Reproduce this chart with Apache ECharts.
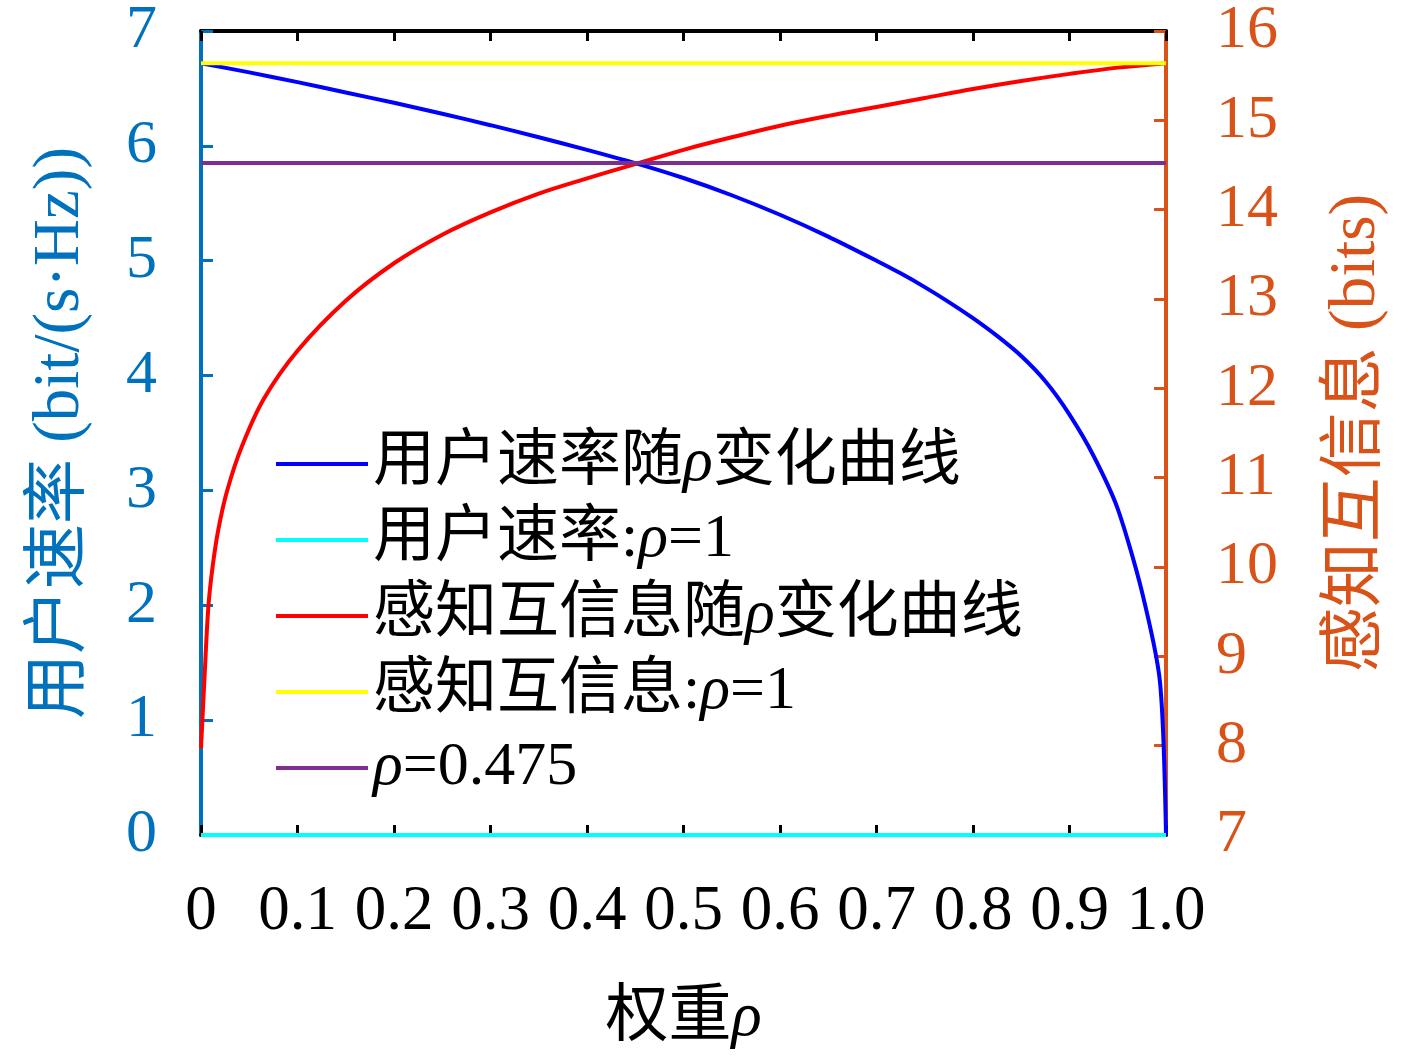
<!DOCTYPE html>
<html>
<head>
<meta charset="utf-8">
<script src="https://cdn.jsdelivr.net/npm/echarts@6/dist/echarts.min.js"></script>
<style>html,body{margin:0;padding:0;background:#fff}#c{width:1417px;height:1058px}</style>
</head>
<body>
<div id="c"></div>
<script>
// ---- data ----
const xTicks = ['0','0.1','0.2','0.3','0.4','0.5','0.6','0.7','0.8','0.9','1.0'];
const rhoRate = [0,0.05,0.1,0.15,0.2,0.25,0.3,0.35,0.4,0.45,0.5,0.55,0.6,0.65,0.7,0.725,0.75,0.775,0.8,0.825,0.85,0.875,0.9,0.925,0.95,0.975,0.9938,1.0];
const rate    = [6.72,6.64,6.555,6.465,6.375,6.28,6.18,6.075,5.965,5.85,5.72,5.57,5.40,5.21,5.00,4.89,4.77,4.64,4.50,4.345,4.17,3.95,3.66,3.30,2.84,2.12,1.33,0];
const rhoMI = [0,0.0035,0.0076,0.012,0.018,0.027,0.042,0.065,0.1,0.15,0.2,0.25,0.3,0.35,0.4,0.45,0.5,0.55,0.6,0.65,0.7,0.75,0.8,0.85,0.9,0.95,1.0];
const mi    = [7.97,8.73,9.55,10.0,10.42,10.85,11.34,11.88,12.42,12.98,13.40,13.72,13.97,14.18,14.35,14.51,14.67,14.81,14.94,15.05,15.15,15.25,15.35,15.44,15.52,15.59,15.64];
const rateAtOne = 0;      // 用户速率:ρ=1
const miAtOne = 15.64;    // 感知互信息:ρ=1
const rateAtOpt = 5.85;   // ρ=0.475 line
const names = ['用户速率随ρ变化曲线','用户速率:ρ=1','感知互信息随ρ变化曲线','感知互信息:ρ=1','ρ=0.475'];

const pairs = (xs, ys) => xs.map((x, i) => [x, ys[i]]);
const FONT = "'Liberation Serif', 'Noto Sans CJK SC', serif";
const BLUE_AX = '#0072BD', ORANGE_AX = '#D95319';
const italicRho = s => s.replace(/ρ/g, '{i|ρ}');

const chart = echarts.init(document.getElementById('c'));
chart.setOption({
  animation: false,
  backgroundColor: '#fff',
  grid: {left: 201, right: 251, top: 30, bottom: 223, containLabel: false},
  legend: {
    orient: 'vertical', left: 271, top: 428,
    itemWidth: 92, itemHeight: 4, itemGap: 14, icon: 'rect',
    data: names,
    formatter: italicRho,
    textStyle: {fontFamily: FONT, fontSize: 62, color: '#000', lineHeight: 60,
      rich: {i: {fontFamily: "'Liberation Serif'", fontStyle: 'italic', fontSize: 62, lineHeight: 60}}}
  },
  xAxis: [{
    type: 'value', min: 0, max: 1, interval: 0.1, position: 'bottom',
    name: '权重{i|ρ}', nameLocation: 'middle', nameGap: 152,
    nameTextStyle: {fontFamily: FONT, fontSize: 63, color: '#000',
      rich: {i: {fontFamily: "'Liberation Serif'", fontStyle: 'italic', fontSize: 63}}},
    axisLine: {onZero: false, lineStyle: {color: '#000', width: 4}},
    axisTick: {inside: true, length: 10, lineStyle: {color: '#000', width: 3}},
    splitLine: {show: false},
    axisLabel: {fontFamily: FONT, fontSize: 63, color: '#000', margin: 46,
      formatter: v => xTicks[Math.round(v * 10)]}
  }, {
    type: 'value', min: 0, max: 1, interval: 0.1, position: 'top',
    axisLine: {onZero: false, lineStyle: {color: '#000', width: 4}},
    axisTick: {inside: true, length: 10, lineStyle: {color: '#000', width: 3}},
    axisLabel: {show: false}, splitLine: {show: false}
  }],
  yAxis: [{
    type: 'value', min: 0, max: 7, interval: 1, position: 'left',
    name: '用户速率 (bit/(s·Hz))', nameLocation: 'middle', nameGap: 108, nameRotate: 90,
    nameTextStyle: {fontFamily: FONT, fontSize: 65, color: BLUE_AX},
    axisLine: {onZero: false, lineStyle: {color: BLUE_AX, width: 4}},
    axisTick: {inside: true, length: 12, lineStyle: {color: BLUE_AX, width: 3}},
    splitLine: {show: false},
    axisLabel: {fontFamily: FONT, fontSize: 62, color: BLUE_AX, margin: 44}
  }, {
    type: 'value', min: 7, max: 16, interval: 1, position: 'right',
    name: '感知互信息 (bits)', nameLocation: 'middle', nameGap: 158, nameRotate: 90,
    nameTextStyle: {fontFamily: FONT, fontSize: 65, color: ORANGE_AX},
    axisLine: {onZero: false, lineStyle: {color: ORANGE_AX, width: 4}},
    axisTick: {inside: true, length: 12, lineStyle: {color: ORANGE_AX, width: 3}},
    splitLine: {show: false},
    axisLabel: {fontFamily: FONT, fontSize: 62, color: ORANGE_AX, margin: 50}
  }],
  series: [
    {name: names[0], type: 'line', xAxisIndex: 0, yAxisIndex: 0, data: pairs(rhoRate, rate),
      symbol: 'none', smooth: 0.25, lineStyle: {color: '#0000FF', width: 4}, itemStyle: {color: '#0000FF'}},
    {name: names[1], type: 'line', xAxisIndex: 0, yAxisIndex: 0, data: [[0, rateAtOne], [1, rateAtOne]],
      symbol: 'none', lineStyle: {color: '#00FFFF', width: 4}, itemStyle: {color: '#00FFFF'}},
    {name: names[2], type: 'line', xAxisIndex: 0, yAxisIndex: 1, data: pairs(rhoMI, mi),
      symbol: 'none', smooth: 0.35, lineStyle: {color: '#FF0000', width: 4}, itemStyle: {color: '#FF0000'}},
    {name: names[3], type: 'line', xAxisIndex: 0, yAxisIndex: 1, data: [[0, miAtOne], [1, miAtOne]],
      symbol: 'none', lineStyle: {color: '#FFFF00', width: 4}, itemStyle: {color: '#FFFF00'}},
    {name: names[4], type: 'line', xAxisIndex: 0, yAxisIndex: 0, data: [[0, rateAtOpt], [1, rateAtOpt]],
      symbol: 'none', lineStyle: {color: '#7E2F8E', width: 4}, itemStyle: {color: '#7E2F8E'}}
  ]
});
</script>
</body>
</html>
